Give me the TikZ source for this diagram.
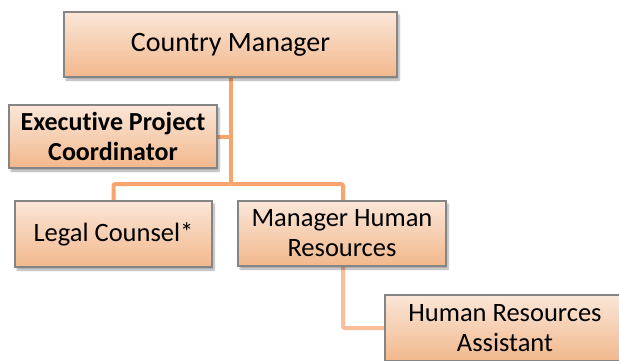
\documentclass[tikz,border=0pt]{standalone}
\usepackage{fontspec}
\setmainfont{Carlito}[Ligatures=NoCommon]
\usetikzlibrary{shadows.blur}
\pgfdeclarelayer{background}
\pgfsetlayers{background,main}
\definecolor{boxtop}{HTML}{FAE6D8}
\definecolor{boxbot}{HTML}{F2B88C}
\definecolor{boxline}{HTML}{858585}
\definecolor{linkmain}{HTML}{F8A46C}
\definecolor{linklight}{HTML}{FBBE98}
\tikzset{
  orgbox/.style={rectangle, draw=boxline, line width=1.2pt,
    top color=boxtop, bottom color=boxbot,
    blur shadow={shadow xshift=2pt, shadow yshift=-3pt, shadow blur steps=6, shadow opacity=35},
    align=center, inner sep=2pt, font=\fontsize{26.5}{30}\selectfont},
  link/.style={draw=linkmain, line width=4pt, rounded corners=2pt},
  linklow/.style={draw=linklight, line width=4pt, rounded corners=2pt},
}
\begin{document}
\begin{tikzpicture}[x=1pt, y=-1pt]
\useasboundingbox (0,0) rectangle (619,360);
\begin{scope}
\clip (0,0) rectangle (619,360);
\node[orgbox, minimum width=333pt, minimum height=65pt, font=\fontsize{28}{32}\selectfont] (cm) at (230.5,44.5) {Country Manager};
\node[orgbox, minimum width=208pt, minimum height=63pt, font=\bfseries\fontsize{26}{30}\selectfont] (epc) at (113,136.5) {Executive Project\\Coordinator};
\node[orgbox, minimum width=197pt, minimum height=66pt] (lc) at (113.5,234) {Legal Counsel*};
\node[orgbox, minimum width=208pt, minimum height=65pt] (mhr) at (342,233.5) {Manager Human\\Resources};
\node[orgbox, minimum width=240pt, minimum height=66pt] (hra) at (505,328) {Human Resources\\Assistant};
\coordinate (split) at (230.5,184);
\begin{pgfonlayer}{background}
  \draw[link] (cm.south) -- (split);
  \draw[link] (split |- epc.east) -- (epc.east);
  \draw[link] (split) -| (lc.north);
  \draw[link] (split) -| ([xshift=1pt]mhr.north);
  \draw[linklow] ([xshift=1pt]mhr.south) |- (hra.west);
\end{pgfonlayer}
\end{scope}
\end{tikzpicture}
\end{document}
